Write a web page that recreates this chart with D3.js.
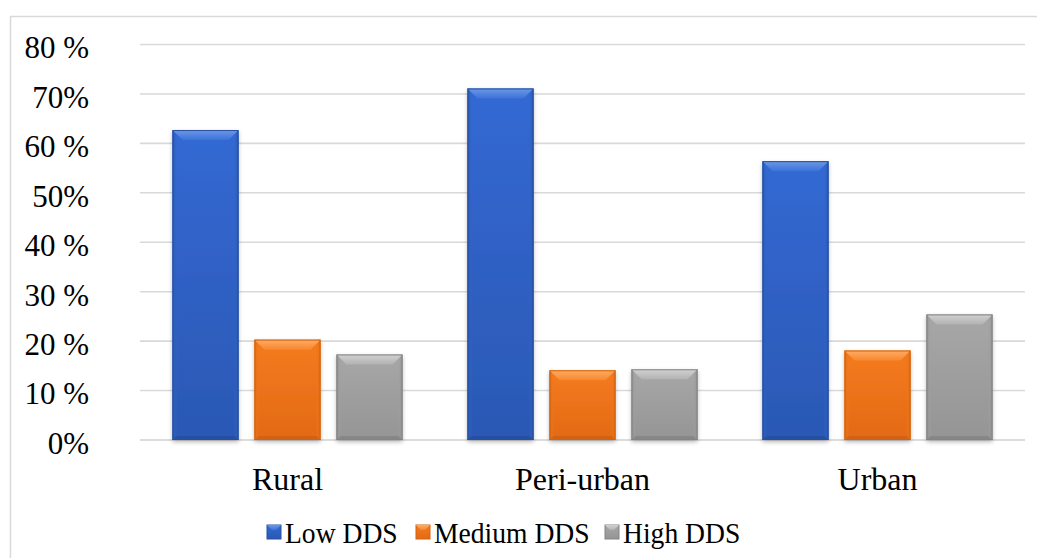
<!DOCTYPE html>
<html>
<head>
<meta charset="utf-8">
<script src="https://cdn.jsdelivr.net/npm/d3@7/dist/d3.min.js"></script>
<style>
  html, body { margin: 0; padding: 0; background: #fff; }
  svg { display: block; }
  svg text { font-family: "Liberation Serif", "Times New Roman", serif; }
</style>
</head>
<body>
<div id="chart"></div>
<script>
// Dietary diversity score (DDS) share by residence area
const categories = ["Rural", "Peri-urban", "Urban"];
const seriesNames = ["Low DDS", "Medium DDS", "High DDS"];
const lowDDS = [62.7, 71.1, 56.4];
const mediumDDS = [20.3, 14.1, 18.1];
const highDDS = [17.3, 14.3, 25.4];
const tickValues = [0, 10, 20, 30, 40, 50, 60, 70, 80];
const tickLabels = ["0%", "10 %", "20 %", "30 %", "40 %", "50%", "60 %", "70%", "80 %"];

const seriesValues = [lowDDS, mediumDDS, highDDS];
const palette = [
  { body0: "#3369d3", body1: "#2b58b4", top0: "#6c98e8", top1: "#3d72d8", side: "#2a55aa", bottom: "#234a98", stroke: "#27509f" },
  { body0: "#f57b1f", body1: "#e26a14", top0: "#ffac66", top1: "#f8872e", side: "#de6a14", bottom: "#c85c10", stroke: "#d0650f" },
  { body0: "#a7a7a7", body1: "#959595", top0: "#d2d2d2", top1: "#b2b2b2", side: "#8e8e8e", bottom: "#7d7d7d", stroke: "#848484" }
];

const serif = '"Liberation Serif", "Times New Roman", serif';
const W = 1037, H = 558;
const svg = d3.select("#chart").append("svg").attr("width", W).attr("height", H);
const defs = svg.append("defs");

const shadow = defs.append("filter").attr("id", "shadow")
  .attr("x", "-20%").attr("y", "-10%").attr("width", "140%").attr("height", "130%");
shadow.append("feDropShadow").attr("dx", 0).attr("dy", 2).attr("stdDeviation", 2)
  .attr("flood-color", "#000").attr("flood-opacity", 0.28);

palette.forEach((p, i) => {
  const g = defs.append("linearGradient").attr("id", "body" + i).attr("x1", 0).attr("y1", 0).attr("x2", 0).attr("y2", 1);
  g.append("stop").attr("offset", "0%").attr("stop-color", p.body0);
  g.append("stop").attr("offset", "100%").attr("stop-color", p.body1);
  const t = defs.append("linearGradient").attr("id", "top" + i).attr("x1", 0).attr("y1", 0).attr("x2", 0).attr("y2", 1);
  t.append("stop").attr("offset", "0%").attr("stop-color", p.top0);
  t.append("stop").attr("offset", "100%").attr("stop-color", p.top1);
  const sl = defs.append("linearGradient").attr("id", "sideL" + i).attr("x1", 0).attr("y1", 0).attr("x2", 1).attr("y2", 0);
  sl.append("stop").attr("offset", "0%").attr("stop-color", p.side);
  sl.append("stop").attr("offset", "100%").attr("stop-color", p.body0).attr("stop-opacity", 0);
  const sr = defs.append("linearGradient").attr("id", "sideR" + i).attr("x1", 1).attr("y1", 0).attr("x2", 0).attr("y2", 0);
  sr.append("stop").attr("offset", "0%").attr("stop-color", p.side);
  sr.append("stop").attr("offset", "100%").attr("stop-color", p.body0).attr("stop-opacity", 0);
});

// Outer chart frame
svg.append("rect").attr("x", 10.5).attr("y", 16.5).attr("width", 1040).attr("height", 560)
  .attr("fill", "none").attr("stroke", "#d9d9d9").attr("stroke-width", 1.5);

const plotLeft = 140, plotRight = 1025, plotTop = 44.5, plotBottom = 440;
const x = d3.scaleBand().domain(categories).range([plotLeft, plotRight]);
const groupWidth = 230;
const xInner = d3.scaleBand().domain(seriesNames).range([0, groupWidth]).paddingInner(0.195);
const y = d3.scaleLinear().domain([0, 80]).range([plotBottom, plotTop]);

// Horizontal gridlines
svg.append("g").selectAll("line").data(tickValues).join("line")
  .attr("x1", plotLeft).attr("x2", plotRight)
  .attr("y1", d => y(d)).attr("y2", d => y(d))
  .attr("stroke", d => d === 0 ? "#d0d0d0" : "#d9d9d9").attr("stroke-width", 1.6);

// Y axis labels
const yAxis = d3.axisLeft(y).tickValues(tickValues).tickSize(0).tickPadding(0)
  .tickFormat((d, i) => tickLabels[i]);
const yg = svg.append("g").attr("transform", "translate(89,0)").call(yAxis);
yg.attr("font-family", null).attr("font-size", null);
yg.select(".domain").remove();
yg.selectAll("text")
  .style("font-family", serif)
  .style("font-size", "31px").attr("fill", "#000")
  .attr("dy", "0.43em");

// Category axis labels
const xAxis = d3.axisBottom(x).tickSize(0).tickPadding(0);
const xg = svg.append("g").attr("transform", "translate(0,467)").call(xAxis);
xg.attr("font-family", null).attr("font-size", null);
xg.select(".domain").remove();
xg.selectAll("text")
  .style("font-family", serif)
  .style("font-size", "32px").attr("fill", "#000")
  .attr("dy", "0.72em");

// Bars with a bevelled look
const bevel = 10, sideW = 5, bottomBev = 4;
const bars = [];
categories.forEach((c, ci) => {
  seriesNames.forEach((s, si) => {
    bars.push({ cat: c, name: s, si, value: seriesValues[si][ci] });
  });
});

const barG = svg.append("g").selectAll("g").data(bars).join("g")
  .attr("transform", d => `translate(${x(d.cat) + (x.bandwidth() - groupWidth) / 2 + xInner(d.name)},0)`);

barG.each(function (d) {
  const g = d3.select(this);
  const w = xInner.bandwidth();
  const y0 = y(d.value), y1 = y(0);
  const h = y1 - y0;
  const bv = Math.min(bevel, h / 2);
  g.append("rect").attr("x", 0).attr("y", y0).attr("width", w).attr("height", h)
    .attr("fill", `url(#body${d.si})`).attr("filter", "url(#shadow)");
  g.append("rect").attr("x", 0).attr("y", y0).attr("width", sideW).attr("height", h)
    .attr("fill", `url(#sideL${d.si})`);
  g.append("rect").attr("x", w - sideW).attr("y", y0).attr("width", sideW).attr("height", h)
    .attr("fill", `url(#sideR${d.si})`);
  g.append("path")
    .attr("d", `M0,${y1} L${w},${y1} L${w - bottomBev},${y1 - bottomBev} L${bottomBev},${y1 - bottomBev} Z`)
    .attr("fill", palette[d.si].bottom).attr("opacity", 0.6);
  g.append("path")
    .attr("d", `M0,${y0} L${w},${y0} L${w - bv},${y0 + bv} L${bv},${y0 + bv} Z`)
    .attr("fill", `url(#top${d.si})`);
  g.append("rect").attr("x", 0.5).attr("y", y0 + 0.5).attr("width", w - 1).attr("height", h - 1)
    .attr("fill", "none").attr("stroke", palette[d.si].stroke).attr("stroke-width", 1);
});

// Legend
const legend = svg.append("g");
const legendX = [267, 416, 605];
seriesNames.forEach((s, i) => {
  const lg = legend.append("g").attr("transform", `translate(${legendX[i]},525)`);
  const p = palette[i];
  lg.append("rect").attr("width", 14).attr("height", 14).attr("fill", `url(#body${i})`)
    .attr("stroke", p.stroke).attr("stroke-width", 1);
  lg.append("path").attr("d", "M0,0 L14,0 L9,5 L5,5 Z").attr("fill", `url(#top${i})`);
  lg.append("text").attr("transform", "translate(18,18) scale(0.92,1)").attr("fill", "#000")
    .style("font-family", serif).style("font-size", "30px").text(s);
});
</script>
</body>
</html>
